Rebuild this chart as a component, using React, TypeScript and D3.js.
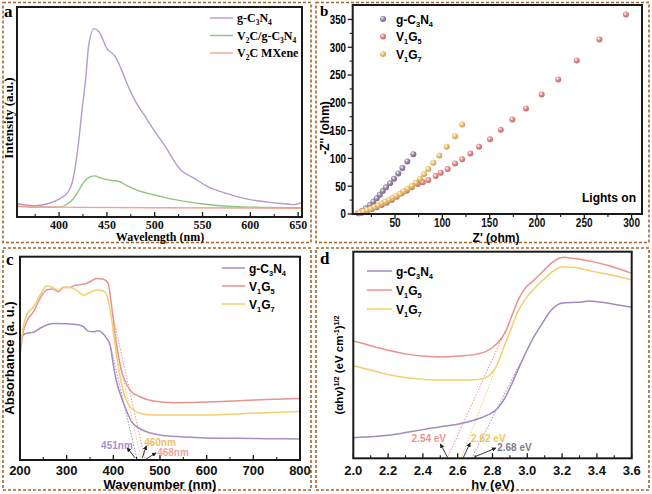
import React from 'react';
import * as d3 from 'd3';

const W = 652, H = 494;

// ---------- Panel a (PL spectra) ----------
const aG = [[356,63],[374,54],[388,63],[400,85],[409,117],[414,169],[419,304],[424,509],[428,668],[431,818],[436.6,897],[442,881],[450,802],[459,763],[464,715],[471,636],[480,549],[489,486],[499,415],[510,343],[527,225],[541,185],[555,146],[576,111],[597,85],[618,71],[638,62],[645,59],[654,70]];
const aVG = [[356,51],[380,47],[400,47],[409,63],[414,82],[419,114],[424,153],[430,185],[437,196],[444,185],[455,174],[463,169],[471,149],[482,127],[499,106],[513,90],[527,78],[548,63],[565,55],[600,47],[654,44]];
const aV = [[356,50],[420,46],[500,44],[654,42]];
const aTicks = [400,450,500,550,600,650];
const aMinor = [375,425,475,525,575,625];
const aLegend = ['g-C_3N_4','V_2C/g-C_3N_4','V_2C MXene'];

// ---------- Panel b (Nyquist) ----------
const bG = [[11.3,1.3],[14.9,5.4],[19.1,10.2],[23.7,16.2],[27.1,22.1],[30.7,28.2],[33.9,34.6],[37.1,41.3],[40.5,47.9],[44.8,55.1],[49,63.4],[53.5,73],[57.8,82.6],[63,94.6],[69.4,107.7]];
const bV5 = [[11.3,1.2],[14.9,2.3],[20.2,4.8],[25.4,8.4],[30.7,12],[36,16.2],[41.3,20.3],[46.6,25.1],[51.8,31.1],[57.1,37.2],[62.4,41.9],[67.7,48],[74,53.9],[79.3,56.9],[85.2,61],[93,68.3],[98.3,74.2],[105.7,80.8],[113.4,91],[121,98.3],[129.6,109],[138.8,121],[150.4,134.5],[161.7,151.5],[174,170],[188.4,190],[205,215],[222.5,242],[242,276],[266,314],[294,359]];
const bV7 = [[13.1,2.3],[16.6,4.8],[20.5,7.2],[24.4,9.5],[28.2,12.6],[32.1,15.6],[36,19.2],[39.8,22.1],[43.7,25.7],[47.6,29.3],[51.4,32.9],[55.3,36.4],[59.2,40.8],[63.5,45.4],[67.7,50.3],[71.9,56.2],[76.5,63.4],[80.7,71.8],[85.2,80.8],[90.5,92.1],[96.8,105.4],[104.6,121],[113.4,140],[121,161]];
const bXTicks = [50,100,150,200,250,300];
const bXMinor = [25,75,125,175,225,275];
const bYTicks = [0,50,100,150,200,250,300,350];
const bYMinor = [25,75,125,175,225,275,325];
const bLegend = ['g-C_3N_4','V_1G_5','V_1G_7'];

// ---------- Panel c (UV-vis) ----------
const cG = [[200,0.566],[207,0.615],[214,0.623],[229,0.628],[243,0.648],[257,0.664],[271,0.672],[300,0.670],[321,0.667],[336,0.656],[346,0.634],[357,0.631],[368,0.636],[375,0.628],[386,0.598],[393,0.566],[400,0.467],[407,0.385],[418,0.303],[429,0.238],[439,0.189],[450,0.164],[471,0.139],[500,0.123],[536,0.115],[586,0.110],[657,0.107],[729,0.105],[800,0.103]];
const cV5 = [[200,0.516],[207,0.631],[214,0.680],[229,0.730],[243,0.795],[257,0.836],[271,0.841],[282,0.828],[293,0.848],[307,0.849],[321,0.861],[336,0.864],[350,0.877],[364,0.893],[379,0.889],[389,0.869],[396,0.762],[407,0.566],[418,0.434],[429,0.369],[439,0.336],[457,0.311],[486,0.290],[529,0.282],[586,0.284],[657,0.290],[729,0.298],[800,0.303]];
const cV7 = [[200,0.533],[207,0.656],[214,0.713],[229,0.754],[243,0.811],[257,0.857],[271,0.848],[282,0.834],[293,0.851],[307,0.848],[321,0.836],[336,0.811],[346,0.820],[364,0.836],[379,0.831],[386,0.811],[396,0.697],[407,0.516],[418,0.369],[429,0.287],[439,0.254],[457,0.230],[486,0.221],[586,0.221],[729,0.233],[800,0.238]];
const cEdges = [451,460,468];
const cEdgeLabels = ['451nm','460nm','468nm'];
const cTicks = [200,300,400,500,600,700,800];
const cMinor = [250,350,450,550,650,750];

// ---------- Panel d (Tauc) ----------
const dV5 = [[2.0,0.568],[2.067,0.553],[2.144,0.535],[2.22,0.519],[2.317,0.503],[2.413,0.494],[2.51,0.490],[2.606,0.495],[2.702,0.503],[2.76,0.516],[2.798,0.535],[2.837,0.565],[2.875,0.613],[2.913,0.694],[2.952,0.774],[2.99,0.826],[3.029,0.855],[3.087,0.903],[3.144,0.948],[3.183,0.968],[3.212,0.973],[3.26,0.968],[3.375,0.952],[3.471,0.932],[3.6,0.895]];
const dV7 = [[2.0,0.448],[2.12,0.423],[2.215,0.403],[2.31,0.390],[2.41,0.382],[2.5,0.379],[2.6,0.379],[2.715,0.382],[2.773,0.395],[2.802,0.419],[2.83,0.460],[2.87,0.548],[2.908,0.629],[2.946,0.710],[2.985,0.766],[3.042,0.823],[3.1,0.871],[3.158,0.911],[3.206,0.927],[3.273,0.923],[3.37,0.906],[3.485,0.887],[3.6,0.863]];
const dG = [[2.0,0.100],[2.12,0.105],[2.215,0.113],[2.31,0.126],[2.41,0.140],[2.5,0.153],[2.6,0.165],[2.696,0.185],[2.773,0.210],[2.83,0.242],[2.87,0.290],[2.908,0.355],[2.946,0.427],[2.985,0.500],[3.023,0.565],[3.08,0.645],[3.138,0.718],[3.177,0.745],[3.215,0.753],[3.292,0.755],[3.36,0.761],[3.427,0.755],[3.523,0.742],[3.6,0.731]];
const dEdges = [2.54,2.62,2.68];
const dEdgeLabels = ['2.54 eV','2.62 eV','2.68 eV'];
const dTicks = [2.0,2.2,2.4,2.6,2.8,3.0,3.2,3.4,3.6];
const dMinor = [2.1,2.3,2.5,2.7,2.9,3.1,3.3,3.5];

const SERIF = '"Liberation Serif", "Times New Roman", serif';
const SANS = '"Liberation Sans", Arial, sans-serif';

function rich(text: string, fs: number) {
  const parts: { t: string; k: 'n' | 'sub' | 'sup' }[] = [];
  let i = 0; let buf = '';
  while (i < text.length) {
    const c = text[i];
    if (c === '_' || c === '^') {
      if (buf) { parts.push({ t: buf, k: 'n' }); buf = ''; }
      let content = '';
      if (text[i + 1] === '{') { const j = text.indexOf('}', i + 2); content = text.slice(i + 2, j); i = j + 1; }
      else { content = text[i + 1]; i += 2; }
      parts.push({ t: content, k: c === '_' ? 'sub' : 'sup' });
    } else { buf += c; i++; }
  }
  if (buf) parts.push({ t: buf, k: 'n' });
  let off = 0;
  return parts.map((p, idx) => {
    const target = p.k === 'sub' ? fs * 0.28 : p.k === 'sup' ? -fs * 0.38 : 0;
    const dy = target - off; off = target;
    return <tspan key={idx} dy={dy} fontSize={p.k === 'n' ? fs : fs * 0.62}>{p.t}</tspan>;
  });
}

type Pt = number[];

function Frame({ x0, x1, y0, y1 }: any) {
  return <rect x={x0} y={y0} width={x1 - x0} height={y1 - y0} fill="none" stroke="#1a1a1a" strokeWidth={2} />;
}

function XTicks({ sx, y, major, minor, inward, fmt, font, fs, labelY, charW }: any) {
  const dir = inward ? -1 : 1;
  return (
    <g>
      {major.map((t: number) => <line key={'M' + t} x1={sx(t)} x2={sx(t)} y1={y} y2={y + dir * 5} stroke="#1a1a1a" strokeWidth={1.3} />)}
      {minor.map((t: number) => <line key={'m' + t} x1={sx(t)} x2={sx(t)} y1={y} y2={y + dir * 3} stroke="#1a1a1a" strokeWidth={1.1} />)}
      {major.map((t: number) => {
        const s = fmt(t);
        const extra = charW ? { textLength: s.length * charW, lengthAdjust: 'spacingAndGlyphs' } : {};
        return <text key={'L' + t} x={sx(t)} y={labelY} textAnchor="middle" fontFamily={font} fontWeight="bold" fontSize={fs} fill="#111" {...extra}>{s}</text>;
      })}
    </g>
  );
}

export default function App() {
  // ----- a scales
  const ax = d3.scaleLinear().domain([356, 654]).range([17, 302]);
  const ay = d3.scaleLinear().domain([0, 1000]).range([217, 7]);
  const aLine = d3.line<Pt>().x(d => ax(d[0])).y(d => ay(d[1])).curve(d3.curveMonotoneX);

  // ----- b scales
  const bx = d3.scaleLinear().domain([5.3, 311]).range([352.7, 642]);
  const by = d3.scaleLinear().domain([0, 376]).range([214, 5]);

  // ----- c scales
  const cx = d3.scaleLinear().domain([200, 800]).range([20, 300]);
  const cy = d3.scaleLinear().domain([0, 1]).range([460, 256.7]);
  const cLine = d3.line<Pt>().x(d => cx(d[0])).y(d => cy(d[1])).curve(d3.curveMonotoneX);

  // ----- d scales
  const dx = d3.scaleLinear().domain([2.0, 3.6]).range([353.3, 631.7]);
  const dy = d3.scaleLinear().domain([0, 1]).range([458.3, 251.7]);
  const dLine = d3.line<Pt>().x(d => dx(d[0])).y(d => dy(d[1])).curve(d3.curveMonotoneX);

  const aColors = ['#b39bcb', '#8fc47e', '#f2a394'];
  const bColors = ['#9d86a8', '#e98a8a', '#f1c56c'];
  const cColors = ['#a68dc3', '#ea9192', '#f1d072'];
  const dColors = ['#a08ac0', '#ea918e', '#f2cf6e'];
  const edgeTextC = ['#a990c8', '#f0c060', '#f1a3a0'];
  const edgeTextD = ['#ec938f', '#f2c45e', '#7d7d8c'];

  const bSeries = [bG, bV5, bV7];
  const cSeries = [cG, cV5, cV7];
  const dSeries = [dG, dV5, dV7];
  const cLegend = ['g-C_3N_4', 'V_1G_5', 'V_1G_7'];

  const cTanStart = [[395, 0.55], [398, 0.64], [398, 0.72]];
  const dTanEnd = [[2.875, 0.62], [2.88, 0.57], [2.99, 0.51]];
  const dOrder = [1, 2, 0];

  const border = { fill: 'none', stroke: '#a5652f', strokeWidth: 1.6, strokeDasharray: '3 2' };

  return (
    <svg width={W} height={H} viewBox={`0 0 ${W} ${H}`} style={{ position: 'absolute', left: 0, top: 0, background: '#fff' }}>
      <defs>
        {bColors.map((c, i) => (
          <radialGradient key={i} id={'ball' + i} cx="38%" cy="35%" r="65%">
            <stop offset="0%" stopColor="#ffffff" stopOpacity={0.95} />
            <stop offset="45%" stopColor={c} />
            <stop offset="100%" stopColor={d3.color(c)!.darker(0.6).toString()} />
          </radialGradient>
        ))}
        <marker id="arr" viewBox="0 0 10 10" refX="9" refY="5" markerWidth="5" markerHeight="5" orient="auto">
          <path d="M0,0 L10,5 L0,10 z" fill="#222" />
        </marker>
      </defs>
      <rect x={0} y={0} width={W} height={H} fill="#fff" />

      {/* dashed panel borders */}
      <rect x={3} y={2.5} width={308} height={240} {...border} />
      <rect x={316} y={2.5} width={333} height={240} {...border} />
      <rect x={3} y={248} width={308} height={242} {...border} />
      <rect x={316} y={248} width={333} height={242} {...border} />

      {/* ================= Panel a ================= */}
      <g>
        {[aG, aVG, aV].map((s, i) => (
          <path key={i} d={aLine(s as Pt[])!} fill="none" stroke={aColors[i]} strokeWidth={1.4} />
        ))}
        <Frame x0={17} x1={302} y0={7} y1={217} />
        <XTicks sx={ax} y={217} major={aTicks} minor={aMinor} inward fmt={(t: number) => String(t)} font={SERIF} fs={12} labelY={228.5} />
        <text x={160} y={241} textAnchor="middle" fontFamily={SERIF} fontWeight="bold" fontSize={12}>Wavelength (nm)</text>
        <text transform="translate(13,118) rotate(-90)" textAnchor="middle" fontFamily={SERIF} fontWeight="bold" fontSize={13}>Intensity (a.u.)</text>
        {aLegend.map((l, i) => (
          <g key={i}>
            <line x1={210} x2={233} y1={18 + i * 17.5} y2={18 + i * 17.5} stroke={aColors[i]} strokeWidth={1.4} />
            <text x={237} y={22 + i * 17.5} fontFamily={SERIF} fontWeight="bold" fontSize={12}>{rich(l, 12)}</text>
          </g>
        ))}
        <text x={4} y={17} fontFamily={SERIF} fontWeight="bold" fontSize={17}>a</text>
      </g>

      {/* ================= Panel b ================= */}
      <g>
        {bSeries.map((s, i) => (
          <g key={i}>
            {s.map((p, j) => <circle key={j} cx={bx(p[0])} cy={by(p[1])} r={3} fill={`url(#ball${i})`} />)}
          </g>
        ))}
        <Frame x0={352.7} x1={642} y0={5} y1={214} />
        <XTicks sx={bx} y={214} major={bXTicks} minor={bXMinor} inward={false} fmt={(t: number) => String(t)} font={SANS} fs={12} labelY={226.5} charW={5.6} />
        {bYTicks.map(t => <line key={'M' + t} x1={352.7} x2={347.7} y1={by(t)} y2={by(t)} stroke="#1a1a1a" strokeWidth={1.3} />)}
        {bYMinor.map(t => <line key={'m' + t} x1={352.7} x2={349.7} y1={by(t)} y2={by(t)} stroke="#1a1a1a" strokeWidth={1.1} />)}
        {bYTicks.map(t => (
          <text key={'L' + t} x={346} y={by(t) + 4.3} textAnchor="end" fontFamily={SANS} fontWeight="bold" fontSize={12}
            textLength={String(t).length * 5.4} lengthAdjust="spacingAndGlyphs">{t}</text>
        ))}
        <text x={496} y={241.5} textAnchor="middle" fontFamily={SANS} fontWeight="bold" fontSize={12}>Z' (ohm)</text>
        <text transform="translate(329,128) rotate(-90)" textAnchor="middle" fontFamily={SANS} fontWeight="bold" fontSize={12}>-Z'' (ohm)</text>
        <text x={636} y={202} textAnchor="end" fontFamily={SANS} fontWeight="bold" fontSize={12}>Lights on</text>
        {bLegend.map((l, i) => (
          <g key={i}>
            <circle cx={383} cy={19 + i * 17.5} r={3} fill={`url(#ball${i})`} />
            <text x={396} y={23.5 + i * 17.5} fontFamily={SANS} fontWeight="bold" fontSize={12}>{rich(l, 12)}</text>
          </g>
        ))}
        <text x={320} y={16} fontFamily={SERIF} fontWeight="bold" fontSize={15}>b</text>
      </g>

      {/* ================= Panel c ================= */}
      <g>
        {cEdges.map((e, i) => (
          <line key={'t' + i} x1={cx(cTanStart[i][0])} y1={cy(cTanStart[i][1])} x2={cx(e)} y2={cy(0)} stroke={cColors[[0, 2, 1][i]]} strokeWidth={1} strokeDasharray="1.5 1.5" />
        ))}
        {cSeries.map((s, i) => (
          <path key={i} d={cLine(s as Pt[])!} fill="none" stroke={cColors[i]} strokeWidth={1.5} />
        ))}
        <Frame x0={20} x1={300} y0={256.7} y1={460} />
        <XTicks sx={cx} y={460} major={cTicks} minor={cMinor} inward fmt={(t: number) => String(t)} font={SANS} fs={13} labelY={475} />
        <text x={160} y={489} textAnchor="middle" fontFamily={SANS} fontWeight="bold" fontSize={13}>Wavenumber (nm)</text>
        <text transform="translate(14,358) rotate(-90)" textAnchor="middle" fontFamily={SANS} fontWeight="bold" fontSize={13}>Absorbance (a. u.)</text>
        {cLegend.map((l, i) => (
          <g key={i}>
            <line x1={222} x2={245} y1={268 + i * 18} y2={268 + i * 18} stroke={cColors[i]} strokeWidth={1.5} />
            <text x={249} y={272.5 + i * 18} fontFamily={SANS} fontWeight="bold" fontSize={12}>{rich(l, 12)}</text>
          </g>
        ))}
        <text x={cx(446) - 2} y={cy(0.075) + 4} textAnchor="end" fontFamily={SANS} fontWeight="bold" fontSize={10} fill={edgeTextC[0]}>{cEdgeLabels[0]}</text>
        <line x1={cx(cEdges[0]) - 2} y1={cy(0.01)} x2={cx(cEdges[0]) - 10} y2={cy(0.06)} stroke="#222" strokeWidth={0.9} markerEnd="url(#arr)" />
        <text x={cx(466)} y={cy(0.09) + 4} textAnchor="start" fontFamily={SANS} fontWeight="bold" fontSize={10} fill={edgeTextC[1]}>{cEdgeLabels[1]}</text>
        <line x1={cx(cEdges[1]) + 1} y1={cy(0.01)} x2={cx(cEdges[1]) + 5} y2={cy(0.07)} stroke="#222" strokeWidth={0.9} markerEnd="url(#arr)" />
        <text x={cx(494)} y={cy(0.038) + 4} textAnchor="start" fontFamily={SANS} fontWeight="bold" fontSize={10} fill={edgeTextC[2]}>{cEdgeLabels[2]}</text>
        <line x1={cx(cEdges[2]) + 1} y1={cy(0.005)} x2={cx(cEdges[2]) + 11} y2={cy(0.035)} stroke="#222" strokeWidth={0.9} markerEnd="url(#arr)" />
        <text x={6} y={265} fontFamily={SERIF} fontWeight="bold" fontSize={17}>c</text>
      </g>

      {/* ================= Panel d ================= */}
      <g>
        {dEdges.map((e, i) => (
          <line key={'t' + i} x1={dx(e)} y1={dy(0)} x2={dx(dTanEnd[i][0])} y2={dy(dTanEnd[i][1])} stroke={dColors[dOrder[i]]} strokeWidth={1} strokeDasharray="1.5 1.5" />
        ))}
        {dSeries.map((s, i) => (
          <path key={i} d={dLine(s as Pt[])!} fill="none" stroke={dColors[i]} strokeWidth={1.5} />
        ))}
        <Frame x0={353.3} x1={631.7} y0={251.7} y1={458.3} />
        <XTicks sx={dx} y={458.3} major={dTicks} minor={dMinor} inward fmt={(t: number) => t.toFixed(1)} font={SANS} fs={13} labelY={475} />
        <text x={493} y={489} textAnchor="middle" fontFamily={SANS} fontWeight="bold" fontSize={13}>hv (eV)</text>
        <text transform="translate(343,365) rotate(-90)" textAnchor="middle" fontFamily={SANS} fontWeight="bold" fontSize={11.5}>{rich('(αhv)^{1/2} (eV cm^{-1})^{1/2}', 11.5)}</text>
        {cLegend.map((l, i) => (
          <g key={i}>
            <line x1={367} x2={392} y1={271 + i * 19} y2={271 + i * 19} stroke={dColors[i]} strokeWidth={1.5} />
            <text x={396} y={275.5 + i * 19} fontFamily={SANS} fontWeight="bold" fontSize={12}>{rich(l, 12)}</text>
          </g>
        ))}
        <text x={dx(2.533)} y={dy(0.097) + 4} textAnchor="end" fontFamily={SANS} fontWeight="bold" fontSize={10} fill={edgeTextD[0]}>{dEdgeLabels[0]}</text>
        <line x1={dx(2.545)} y1={dy(0.0)} x2={dx(2.50)} y2={dy(0.07)} stroke="#222" strokeWidth={0.9} markerEnd="url(#arr)" />
        <text x={dx(2.677)} y={dy(0.1) + 4} textAnchor="start" fontFamily={SANS} fontWeight="bold" fontSize={10} fill={edgeTextD[1]}>{dEdgeLabels[1]}</text>
        <line x1={dx(2.63)} y1={dy(0.0)} x2={dx(2.672)} y2={dy(0.075)} stroke="#222" strokeWidth={0.9} markerEnd="url(#arr)" />
        <text x={dx(2.827)} y={dy(0.056) + 4} textAnchor="start" fontFamily={SANS} fontWeight="bold" fontSize={10} fill={edgeTextD[2]}>{dEdgeLabels[2]}</text>
        <line x1={dx(2.70)} y1={dy(0.008)} x2={dx(2.82)} y2={dy(0.05)} stroke="#222" strokeWidth={0.9} markerEnd="url(#arr)" />
        <text x={320} y={264} fontFamily={SERIF} fontWeight="bold" fontSize={17}>d</text>
      </g>
    </svg>
  );
}
